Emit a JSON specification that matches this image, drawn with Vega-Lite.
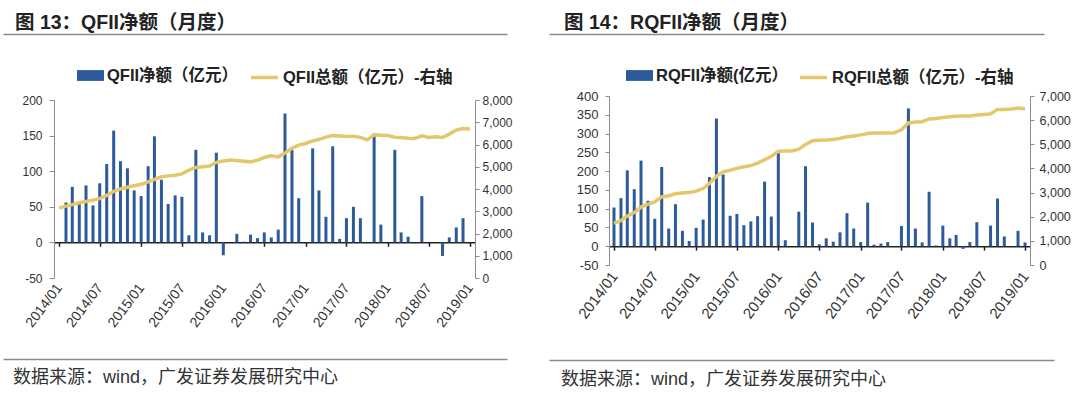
{
  "$schema": "https://vega.github.io/schema/vega-lite/v6.json",
  "background": "white",
  "padding": {"left": 3, "top": 13, "right": 0, "bottom": 0},
  "config": {
    "font": "Liberation Sans, Noto Sans CJK SC",
    "view": {"stroke": null},
    "axis": {"labelFont": "Liberation Sans, Noto Sans CJK SC", "labelFontSize": 12, "labelColor": "#333333", "grid": false, "domainColor": "#8c8c8c", "tickColor": "#8c8c8c", "title": null},
    "legend": {"labelFont": "Liberation Sans, Noto Sans CJK SC", "labelFontSize": 16.5, "labelFontWeight": "bold", "labelColor": "#222222", "title": null, "labelLimit": 400, "layout": {"top": {"anchor": "middle", "margin": 10}}}
  },
  "datasets": {
    "qfii": [
      {"d": "2014-01-01", "net": null, "total": 3150},
      {"d": "2014-02-01", "net": 56, "total": 3230},
      {"d": "2014-03-01", "net": 78, "total": 3300},
      {"d": "2014-04-01", "net": 54, "total": 3380},
      {"d": "2014-05-01", "net": 80, "total": 3440},
      {"d": "2014-06-01", "net": 52, "total": 3500},
      {"d": "2014-07-01", "net": 83, "total": 3565},
      {"d": "2014-08-01", "net": 110, "total": 3710},
      {"d": "2014-09-01", "net": 157, "total": 3900},
      {"d": "2014-10-01", "net": 114, "total": 4000},
      {"d": "2014-11-01", "net": 104, "total": 4080},
      {"d": "2014-12-01", "net": 73, "total": 4150},
      {"d": "2015-01-01", "net": 65, "total": 4210},
      {"d": "2015-02-01", "net": 107, "total": 4320},
      {"d": "2015-03-01", "net": 149, "total": 4436},
      {"d": "2015-04-01", "net": 88, "total": 4550},
      {"d": "2015-05-01", "net": 54, "total": 4590},
      {"d": "2015-06-01", "net": 66, "total": 4616},
      {"d": "2015-07-01", "net": 64, "total": 4680},
      {"d": "2015-08-01", "net": 10, "total": 4850},
      {"d": "2015-09-01", "net": 130, "total": 4970},
      {"d": "2015-10-01", "net": 14, "total": 5000},
      {"d": "2015-11-01", "net": 10, "total": 5036},
      {"d": "2015-12-01", "net": 126, "total": 5200},
      {"d": "2016-01-01", "net": -18, "total": 5260},
      {"d": "2016-02-01", "net": 0, "total": 5307},
      {"d": "2016-03-01", "net": 12, "total": 5280},
      {"d": "2016-04-01", "net": 1, "total": 5250},
      {"d": "2016-05-01", "net": 11, "total": 5220},
      {"d": "2016-06-01", "net": 6, "total": 5300},
      {"d": "2016-07-01", "net": 14, "total": 5414},
      {"d": "2016-08-01", "net": 7, "total": 5489},
      {"d": "2016-09-01", "net": 18, "total": 5444},
      {"d": "2016-10-01", "net": 181, "total": 5620},
      {"d": "2016-11-01", "net": 130, "total": 5830},
      {"d": "2016-12-01", "net": 62, "total": 5970},
      {"d": "2017-01-01", "net": 0, "total": 6045},
      {"d": "2017-02-01", "net": 132, "total": 6160},
      {"d": "2017-03-01", "net": 73, "total": 6230},
      {"d": "2017-04-01", "net": 36, "total": 6330},
      {"d": "2017-05-01", "net": 135, "total": 6406},
      {"d": "2017-06-01", "net": 5, "total": 6380},
      {"d": "2017-07-01", "net": 34, "total": 6361},
      {"d": "2017-08-01", "net": 50, "total": 6376},
      {"d": "2017-09-01", "net": 34, "total": 6320},
      {"d": "2017-10-01", "net": 0, "total": 6210},
      {"d": "2017-11-01", "net": 153, "total": 6436},
      {"d": "2017-12-01", "net": 25, "total": 6421},
      {"d": "2018-01-01", "net": 0, "total": 6400},
      {"d": "2018-02-01", "net": 130, "total": 6330},
      {"d": "2018-03-01", "net": 14, "total": 6316},
      {"d": "2018-04-01", "net": 8, "total": 6286},
      {"d": "2018-05-01", "net": 0, "total": 6271},
      {"d": "2018-06-01", "net": 65, "total": 6391},
      {"d": "2018-07-01", "net": 0, "total": 6316},
      {"d": "2018-08-01", "net": 0, "total": 6346},
      {"d": "2018-09-01", "net": -19, "total": 6316},
      {"d": "2018-10-01", "net": 7, "total": 6466},
      {"d": "2018-11-01", "net": 21, "total": 6647},
      {"d": "2018-12-01", "net": 34, "total": 6722},
      {"d": "2019-01-01", "net": null, "total": 6692}
    ],
    "rqfii": [
      {"d": "2014-01-01", "net": 103, "total": 1722},
      {"d": "2014-02-01", "net": 128, "total": 1840},
      {"d": "2014-03-01", "net": 202, "total": 2030},
      {"d": "2014-04-01", "net": 152, "total": 2170},
      {"d": "2014-05-01", "net": 228, "total": 2397},
      {"d": "2014-06-01", "net": 121, "total": 2521},
      {"d": "2014-07-01", "net": 73, "total": 2617},
      {"d": "2014-08-01", "net": 211, "total": 2820},
      {"d": "2014-09-01", "net": 47, "total": 2870},
      {"d": "2014-10-01", "net": 112, "total": 2948},
      {"d": "2014-11-01", "net": 41, "total": 2985},
      {"d": "2014-12-01", "net": 14, "total": 3003},
      {"d": "2015-01-01", "net": 49, "total": 3058},
      {"d": "2015-02-01", "net": 71, "total": 3168},
      {"d": "2015-03-01", "net": 184, "total": 3375},
      {"d": "2015-04-01", "net": 340, "total": 3678},
      {"d": "2015-05-01", "net": 191, "total": 3857},
      {"d": "2015-06-01", "net": 81, "total": 3926},
      {"d": "2015-07-01", "net": 86, "total": 4000},
      {"d": "2015-08-01", "net": 56, "total": 4070},
      {"d": "2015-09-01", "net": 66, "total": 4120},
      {"d": "2015-10-01", "net": 80, "total": 4220},
      {"d": "2015-11-01", "net": 172, "total": 4360},
      {"d": "2015-12-01", "net": 79, "total": 4500},
      {"d": "2016-01-01", "net": 249, "total": 4711},
      {"d": "2016-02-01", "net": 16, "total": 4725},
      {"d": "2016-03-01", "net": 0, "total": 4725},
      {"d": "2016-04-01", "net": 92, "total": 4800},
      {"d": "2016-05-01", "net": 213, "total": 4990},
      {"d": "2016-06-01", "net": 63, "total": 5150},
      {"d": "2016-07-01", "net": 5, "total": 5170},
      {"d": "2016-08-01", "net": 21, "total": 5180},
      {"d": "2016-09-01", "net": 12, "total": 5200},
      {"d": "2016-10-01", "net": 37, "total": 5250},
      {"d": "2016-11-01", "net": 88, "total": 5310},
      {"d": "2016-12-01", "net": 47, "total": 5340},
      {"d": "2017-01-01", "net": 11, "total": 5390},
      {"d": "2017-02-01", "net": 116, "total": 5450},
      {"d": "2017-03-01", "net": 4, "total": 5465},
      {"d": "2017-04-01", "net": 7, "total": 5468},
      {"d": "2017-05-01", "net": 11, "total": 5468},
      {"d": "2017-06-01", "net": 0, "total": 5480},
      {"d": "2017-07-01", "net": 54, "total": 5600},
      {"d": "2017-08-01", "net": 367, "total": 5882},
      {"d": "2017-09-01", "net": 47, "total": 5923},
      {"d": "2017-10-01", "net": 10, "total": 5937},
      {"d": "2017-11-01", "net": 145, "total": 6050},
      {"d": "2017-12-01", "net": 2, "total": 6070},
      {"d": "2018-01-01", "net": 55, "total": 6110},
      {"d": "2018-02-01", "net": 21, "total": 6140},
      {"d": "2018-03-01", "net": 30, "total": 6160},
      {"d": "2018-04-01", "net": -7, "total": 6171},
      {"d": "2018-05-01", "net": 11, "total": 6171},
      {"d": "2018-06-01", "net": 64, "total": 6210},
      {"d": "2018-07-01", "net": 0, "total": 6230},
      {"d": "2018-08-01", "net": 55, "total": 6260},
      {"d": "2018-09-01", "net": 127, "total": 6446},
      {"d": "2018-10-01", "net": 26, "total": 6446},
      {"d": "2018-11-01", "net": 0, "total": 6460},
      {"d": "2018-12-01", "net": 41, "total": 6500},
      {"d": "2019-01-01", "net": 10, "total": 6474}
    ],
    "one": [{"v": 0}]
  },
  "spacing": -9,
  "resolve": {"scale": {"color": "independent", "stroke": "independent"}, "legend": {"color": "independent", "stroke": "independent"}},
  "hconcat": [
    {
      "columns": 1,
      "align": "none",
      "spacing": 23,
      "resolve": {"scale": {"color": "independent", "stroke": "independent"}, "legend": {"color": "independent", "stroke": "independent"}},
      "concat": [
        {
          "width": 421, "height": 1,
          "data": {"name": "one"},
          "mark": {"type": "text", "text": " "},
          "encoding": {"x": {"field": "v", "type": "quantitative", "scale": {"domain": [0, 1], "range": [-51, 453]}, "axis": {"orient": "bottom", "labels": false, "ticks": false, "domain": true, "domainColor": "#8a8a8a", "domainWidth": 1.5}}},
          "title": {"text": "图 13：QFII净额（月度）", "orient": "top", "anchor": "start", "frame": "group", "dx": -39, "offset": -6, "fontSize": 19.5, "fontWeight": "bold", "color": "#222222", "font": "Liberation Sans, Noto Sans CJK SC"}
        },
        {
          "width": 421, "height": 178,
          "data": {"name": "qfii"},
          "layer": [
            {
              "mark": {"type": "bar", "width": 3},
              "encoding": {
                "x": {"field": "d", "type": "temporal",
                  "scale": {"type": "utc", "domain": [{"year": 2014, "month": 1, "date": 1, "utc": true}, {"year": 2019, "month": 1, "date": 1, "utc": true}]},
                  "axis": {"orient": "bottom", "format": "%Y/%m", "labelAngle": -53, "labelAlign": "right", "labelBaseline": "middle", "labelPadding": 7, "labelFontSize": 14, "domain": false, "ticks": false, "labelOverlap": false, "labelBound": false, "labelFlush": false,
                    "values": [{"year": 2014, "month": 1, "date": 1, "utc": true}, {"year": 2014, "month": 7, "date": 1, "utc": true}, {"year": 2015, "month": 1, "date": 1, "utc": true}, {"year": 2015, "month": 7, "date": 1, "utc": true}, {"year": 2016, "month": 1, "date": 1, "utc": true}, {"year": 2016, "month": 7, "date": 1, "utc": true}, {"year": 2017, "month": 1, "date": 1, "utc": true}, {"year": 2017, "month": 7, "date": 1, "utc": true}, {"year": 2018, "month": 1, "date": 1, "utc": true}, {"year": 2018, "month": 7, "date": 1, "utc": true}, {"year": 2019, "month": 1, "date": 1, "utc": true}]}},
                "y": {"field": "net", "type": "quantitative", "scale": {"domain": [-50, 200], "nice": false, "zero": false},
                  "axis": {"values": [-50, 0, 50, 100, 150, 200], "labelExpr": "replace(datum.label, '−', '-')", "minExtent": 51, "tickSize": 5, "labelPadding": 7}},
                "color": {"datum": "QFII净额（亿元）", "scale": {"range": ["#2C5A9A"]},
                  "legend": {"orient": "top", "symbolType": "M-1,-0.4H1V0.4H-1Z", "symbolSize": 729, "symbolStrokeWidth": 0, "labelOffset": 3, "offset": 14}}
              }
            },
            {
              "mark": {"type": "line", "strokeWidth": 3.5},
              "encoding": {
                "x": {"field": "d", "type": "temporal",
                  "scale": {"type": "utc", "domain": [{"year": 2014, "month": 1, "date": 1, "utc": true}, {"year": 2019, "month": 1, "date": 1, "utc": true}]},
                  "axis": {"orient": "bottom", "offset": -35.7, "labels": false, "domain": true, "domainColor": "#222222", "domainWidth": 1.5, "ticks": true, "tickColor": "#222222", "tickWidth": 1.5, "tickSize": 4,
                    "values": [{"year": 2014, "month": 1, "date": 1, "utc": true}, {"year": 2014, "month": 7, "date": 1, "utc": true}, {"year": 2015, "month": 1, "date": 1, "utc": true}, {"year": 2015, "month": 7, "date": 1, "utc": true}, {"year": 2016, "month": 1, "date": 1, "utc": true}, {"year": 2016, "month": 7, "date": 1, "utc": true}, {"year": 2017, "month": 1, "date": 1, "utc": true}, {"year": 2017, "month": 7, "date": 1, "utc": true}, {"year": 2018, "month": 1, "date": 1, "utc": true}, {"year": 2018, "month": 7, "date": 1, "utc": true}, {"year": 2019, "month": 1, "date": 1, "utc": true}]}},
                "y": {"field": "total", "type": "quantitative", "scale": {"domain": [0, 8000], "nice": false},
                  "axis": {"orient": "right", "format": ",d", "values": [0, 1000, 2000, 3000, 4000, 5000, 6000, 7000, 8000], "tickSize": 4, "labelPadding": 3}},
                "stroke": {"datum": "QFII总额（亿元）-右轴", "scale": {"range": ["#E5C76B"]},
                  "legend": {"orient": "top", "symbolType": "stroke", "symbolSize": 729, "symbolStrokeWidth": 3.5, "labelOffset": 3, "offset": 14}}
              }
            }
          ],
          "resolve": {"scale": {"y": "independent"}, "axis": {"x": "independent"}}
        },
        {
          "width": 421, "height": 1,
          "data": {"name": "one"},
          "mark": {"type": "text", "text": " "},
          "encoding": {"x": {"field": "v", "type": "quantitative", "scale": {"domain": [0, 1], "range": [-51, 453]}, "axis": {"orient": "top", "labels": false, "ticks": false, "domain": true, "domainColor": "#8a8a8a", "domainWidth": 1.5}}},
          "title": {"text": "数据来源：wind，广发证券发展研究中心", "orient": "bottom", "anchor": "start", "frame": "group", "dx": -41, "offset": 4, "fontSize": 18, "fontWeight": "normal", "color": "#333333", "font": "Liberation Sans, Noto Sans CJK SC"}
        }
      ]
    },
    {
      "columns": 1,
      "align": "none",
      "spacing": 23,
      "resolve": {"scale": {"color": "independent", "stroke": "independent"}, "legend": {"color": "independent", "stroke": "independent"}},
      "concat": [
        {
          "width": 421, "height": 1,
          "data": {"name": "one"},
          "mark": {"type": "text", "text": " "},
          "encoding": {"x": {"field": "v", "type": "quantitative", "scale": {"domain": [0, 1], "range": [-60, 435]}, "axis": {"orient": "bottom", "labels": false, "ticks": false, "domain": true, "domainColor": "#8a8a8a", "domainWidth": 1.5}}},
          "title": {"text": "图 14：RQFII净额（月度）", "orient": "top", "anchor": "start", "frame": "group", "dx": -45, "offset": -6, "fontSize": 19.5, "fontWeight": "bold", "color": "#222222", "font": "Liberation Sans, Noto Sans CJK SC"}
        },
        {
          "width": 421, "height": 169,
          "data": {"name": "rqfii"},
          "layer": [
            {
              "mark": {"type": "bar", "width": 3},
              "encoding": {
                "x": {"field": "d", "type": "temporal",
                  "scale": {"type": "utc", "domain": [{"year": 2014, "month": 1, "date": 1, "utc": true}, {"year": 2019, "month": 1, "date": 1, "utc": true}]},
                  "axis": {"orient": "bottom", "format": "%Y/%m", "labelAngle": -53, "labelAlign": "right", "labelBaseline": "middle", "labelPadding": 8, "labelFontSize": 15, "minExtent": 66, "domain": false, "ticks": false, "labelOverlap": false, "labelBound": false, "labelFlush": false,
                    "values": [{"year": 2014, "month": 1, "date": 1, "utc": true}, {"year": 2014, "month": 7, "date": 1, "utc": true}, {"year": 2015, "month": 1, "date": 1, "utc": true}, {"year": 2015, "month": 7, "date": 1, "utc": true}, {"year": 2016, "month": 1, "date": 1, "utc": true}, {"year": 2016, "month": 7, "date": 1, "utc": true}, {"year": 2017, "month": 1, "date": 1, "utc": true}, {"year": 2017, "month": 7, "date": 1, "utc": true}, {"year": 2018, "month": 1, "date": 1, "utc": true}, {"year": 2018, "month": 7, "date": 1, "utc": true}, {"year": 2019, "month": 1, "date": 1, "utc": true}]}},
                "y": {"field": "net", "type": "quantitative", "scale": {"domain": [-50, 400], "nice": false, "zero": false},
                  "axis": {"values": [-50, 0, 50, 100, 150, 200, 250, 300, 350, 400], "labelExpr": "replace(datum.label, '−', '-')", "labelFontSize": 13, "minExtent": 60, "tickSize": 4, "labelPadding": 7}},
                "color": {"datum": "RQFII净额(亿元）", "scale": {"range": ["#2C5A9A"]},
                  "legend": {"orient": "top", "symbolType": "M-1,-0.4H1V0.4H-1Z", "symbolSize": 729, "symbolStrokeWidth": 0, "labelOffset": 3, "offset": 10}}
              }
            },
            {
              "mark": {"type": "line", "strokeWidth": 3.5},
              "encoding": {
                "x": {"field": "d", "type": "temporal",
                  "scale": {"type": "utc", "domain": [{"year": 2014, "month": 1, "date": 1, "utc": true}, {"year": 2019, "month": 1, "date": 1, "utc": true}]},
                  "axis": {"orient": "bottom", "offset": -18.8, "labels": false, "domain": true, "domainColor": "#222222", "domainWidth": 1.5, "ticks": true, "tickColor": "#222222", "tickWidth": 1.5, "tickSize": 4,
                    "values": [{"year": 2014, "month": 1, "date": 1, "utc": true}, {"year": 2014, "month": 7, "date": 1, "utc": true}, {"year": 2015, "month": 1, "date": 1, "utc": true}, {"year": 2015, "month": 7, "date": 1, "utc": true}, {"year": 2016, "month": 1, "date": 1, "utc": true}, {"year": 2016, "month": 7, "date": 1, "utc": true}, {"year": 2017, "month": 1, "date": 1, "utc": true}, {"year": 2017, "month": 7, "date": 1, "utc": true}, {"year": 2018, "month": 1, "date": 1, "utc": true}, {"year": 2018, "month": 7, "date": 1, "utc": true}, {"year": 2019, "month": 1, "date": 1, "utc": true}]}},
                "y": {"field": "total", "type": "quantitative", "scale": {"domain": [0, 7000], "nice": false},
                  "axis": {"orient": "right", "format": ",d", "values": [0, 1000, 2000, 3000, 4000, 5000, 6000, 7000], "labelFontSize": 12.5, "tickSize": 4, "labelPadding": 5}},
                "stroke": {"datum": "RQFII总额（亿元）-右轴", "scale": {"range": ["#E5C76B"]},
                  "legend": {"orient": "top", "symbolType": "stroke", "symbolSize": 729, "symbolStrokeWidth": 3.5, "labelOffset": 3, "offset": 10}}
              }
            }
          ],
          "resolve": {"scale": {"y": "independent"}, "axis": {"x": "independent"}}
        },
        {
          "width": 421, "height": 1,
          "data": {"name": "one"},
          "mark": {"type": "text", "text": " "},
          "encoding": {"x": {"field": "v", "type": "quantitative", "scale": {"domain": [0, 1], "range": [-60, 445]}, "axis": {"orient": "top", "labels": false, "ticks": false, "domain": true, "domainColor": "#8a8a8a", "domainWidth": 1.5}}},
          "title": {"text": "数据来源：wind，广发证券发展研究中心", "orient": "bottom", "anchor": "start", "frame": "group", "dx": -48, "offset": 5, "fontSize": 18, "fontWeight": "normal", "color": "#333333", "font": "Liberation Sans, Noto Sans CJK SC"}
        }
      ]
    }
  ]
}
